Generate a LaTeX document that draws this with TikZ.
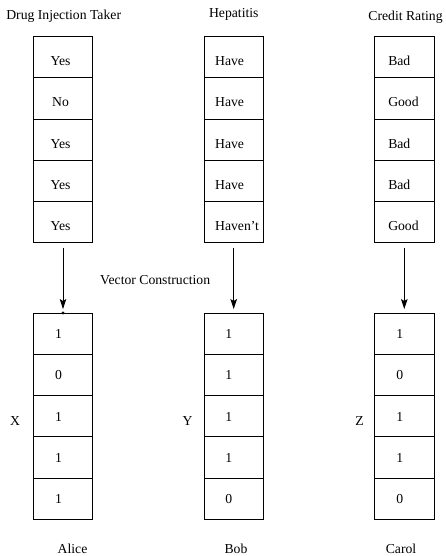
\documentclass[tikz,border=0pt]{standalone}
\usepackage{fontspec}
\setmainfont{Liberation Serif}
\usetikzlibrary{arrows.meta}
\begin{document}
\begin{tikzpicture}[x=1pt,y=-1pt,
  cell/.style={minimum width=59.5pt, minimum height=41.2pt,
               inner sep=0pt, outer sep=0pt},
  rule/.style={line width=0.9pt},
  txt/.style={inner sep=0pt, anchor=base, font=\fontsize{13.7}{16}\selectfont},
  ltxt/.style={txt, anchor=base west},
  conv/.style={line width=0.9pt, -{Stealth[length=10pt,width=6.5pt,inset=2pt]},
               shorten <=5pt, shorten >=4pt}]
\useasboundingbox (0,0) rectangle (446,556);
\fill[white] (0,0) rectangle (446,556);

% attribute tables (top row)
\foreach \t [count=\i] in {Yes,No,Yes,Yes,Yes} {
  \node[cell] (a\i) at (63, {36.7+41.2*(\i-0.5)}) {};
  \node[txt] (at\i) at ([xshift=-2.5pt,yshift=-8.5pt]a\i.center) {\t};
}
\foreach \t [count=\i] in {Have,Have,Have,Have,Haven't} {
  \node[cell] (b\i) at (233.7, {36.7+41.2*(\i-0.5)}) {};
  \node[ltxt] (bt\i) at ([xshift=11pt,yshift=-8.5pt]b\i.center -| b\i.west) {\t};
}
\foreach \t [count=\i] in {Bad,Good,Bad,Bad,Good} {
  \node[cell] (c\i) at (404.3, {36.7+41.2*(\i-0.5)}) {};
  \node[ltxt] (ct\i) at ([xshift=13.5pt,yshift=-8.5pt]c\i.center -| c\i.west) {\t};
}

% binary vectors (bottom row)
\foreach \t [count=\i] in {1,0,1,1,1} {
  \node[cell] (x\i) at (63, {313+41.3*(\i-0.5)}) {};
  \node[txt] (xt\i) at ([xshift=-4.5pt,yshift=-5pt]x\i.center) {\t};
}
\foreach \t [count=\i] in {1,1,1,1,0} {
  \node[cell] (y\i) at (233.7, {313+41.3*(\i-0.5)}) {};
  \node[txt] (yt\i) at ([xshift=-5pt,yshift=-5pt]y\i.center) {\t};
}
\foreach \t [count=\i] in {1,0,1,1,0} {
  \node[cell] (z\i) at (404.3, {313+41.3*(\i-0.5)}) {};
  \node[txt] (zt\i) at ([xshift=-4.5pt,yshift=-5pt]z\i.center) {\t};
}

% frames and cell dividers, each stroked once
\foreach \c in {a,b,c,x,y,z} {
  \draw[rule] (\c1.north west) rectangle (\c5.south east);
  \foreach \i in {1,...,4}
    \draw[rule] (\c\i.south west) -- (\c\i.south east);
}

% column titles
\node[txt] (ta) at (63.7,19.3) {Drug Injection Taker};
\node[txt] (tb) at (233.8,17.7) {Hepatitis};
\node[txt] (tc) at (405.5,20.5) {Credit Rating};

% vector names and owners
\node[txt] (vx) at (15,425) {X};
\node[txt] (vy) at (187.5,425) {Y};
\node[txt] (vz) at (359.5,425) {Z};
\node[txt] (na) at (72.5,553) {Alice};
\node[txt] (nb) at (236,553) {Bob};
\node[txt] (nc) at (401,553) {Carol};

% conversion arrows
\draw[conv] (a5.south) -- (x1.north);
\draw[conv] (b5.south) -- (y1.north);
\draw[conv] (c5.south) -- (z1.north);
\fill (x1.north) circle (1.6pt);
\node[ltxt] (vc) at (100,284.5) {Vector Construction};
\end{tikzpicture}
\end{document}
